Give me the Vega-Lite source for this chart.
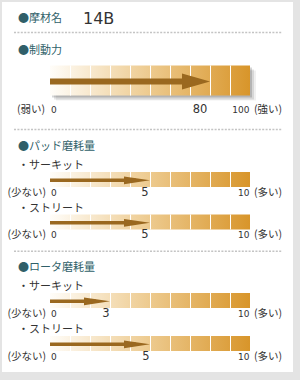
{
  "$schema": "https://vega.github.io/schema/vega-lite/v6.json",
  "background": "#e4e4e4",
  "padding": {"left": 2, "top": 2, "right": 7, "bottom": 8},
  "bounds": "flush",
  "spacing": 0,
  "config": {
    "view": {"fill": "white", "stroke": null},
    "text": {"font": "Noto Sans CJK JP", "color": "#333333"}
  },
  "datasets": {
    "header": [{"label": "摩材名", "name": "14B"}],
    "sections": [
      {"section": "制動力", "first": "制動力"},
      {"section": "パッド磨耗量", "first": "サーキット"},
      {"section": "ロータ磨耗量", "first": "サーキット"}
    ],
    "items": [
      {"section": "制動力", "item": "制動力", "value": 80, "min": 0, "max": 100, "low": "(弱い)", "high": "(強い)"},
      {"section": "パッド磨耗量", "item": "サーキット", "value": 5, "min": 0, "max": 10, "low": "(少ない)", "high": "(多い)"},
      {"section": "パッド磨耗量", "item": "ストリート", "value": 5, "min": 0, "max": 10, "low": "(少ない)", "high": "(多い)"},
      {"section": "ロータ磨耗量", "item": "サーキット", "value": 3, "min": 0, "max": 10, "low": "(少ない)", "high": "(多い)"},
      {"section": "ロータ磨耗量", "item": "ストリート", "value": 5, "min": 0, "max": 10, "low": "(少ない)", "high": "(多い)"}
    ],
    "brakeDividers": [{"t": 10}, {"t": 20}, {"t": 30}, {"t": 40}, {"t": 50}, {"t": 60}, {"t": 70}, {"t": 80}, {"t": 90}],
    "wearDividers": [{"t": 1}, {"t": 2}, {"t": 3}, {"t": 4}, {"t": 5}, {"t": 6}, {"t": 7}, {"t": 8}, {"t": 9}]
  },
  "vconcat": [
    {
      "width": 291,
      "height": 30,
      "data": {"name": "header"},
      "layer": [
        {
          "mark": {"type": "text", "text": "●", "align": "left", "baseline": "middle", "fontSize": 11, "color": "#305f69", "dy": 2},
          "encoding": {"x": {"datum": -1.6, "type": "quantitative", "axis": null, "scale": {"domain": [-2.4, 12.15], "nice": false, "zero": false}}}
        },
        {
          "mark": {"type": "text", "align": "left", "baseline": "middle", "fontSize": 11, "color": "#305f69", "dy": 2},
          "encoding": {"x": {"datum": -1.05, "type": "quantitative"}, "text": {"field": "label"}}
        },
        {
          "mark": {"type": "text", "align": "left", "baseline": "middle", "font": "DejaVu Sans", "fontSize": 16, "color": "#333333", "dy": 2},
          "encoding": {"x": {"datum": 1.65, "type": "quantitative"}, "text": {"field": "name"}}
        }
      ]
    },
    {
      "width": 291,
      "height": 97,
      "data": {"name": "items"},
      "transform": [{"filter": "datum.section === '制動力'"}],
      "encoding": {
        "y": {"field": "item", "type": "nominal", "axis": null, "scale": {"domain": ["制動力"], "paddingInner": 0, "paddingOuter": 0, "round": false}}
      },
      "layer": [
        {
          "mark": {"type": "bar", "height": 30, "fill": "#000000", "opacity": 0.06, "xOffset": 6, "x2Offset": 6, "yOffset": 5},
          "encoding": {
            "x": {"field": "min", "type": "quantitative", "axis": null, "scale": {"domain": [-24, 121.5], "nice": false, "zero": false}},
            "x2": {"field": "max"}
          }
        },
        {
          "mark": {"type": "bar", "height": 30, "fill": "#000000", "opacity": 0.1, "xOffset": 4, "x2Offset": 4, "yOffset": 4},
          "encoding": {"x": {"field": "min", "type": "quantitative"}, "x2": {"field": "max"}}
        },
        {
          "mark": {"type": "bar", "height": 30, "fill": "#000000", "opacity": 0.16, "xOffset": 2, "x2Offset": 2, "yOffset": 2},
          "encoding": {"x": {"field": "min", "type": "quantitative"}, "x2": {"field": "max"}}
        },
        {
          "mark": {"type": "bar", "height": 30, "fill": {"gradient": "linear", "x1": 0, "y1": 0, "x2": 1, "y2": 0, "stops": [{"offset": 0, "color": "#fffdf9"}, {"offset": 0.5, "color": "#edca8e"}, {"offset": 1, "color": "#d8952a"}]}},
          "encoding": {"x": {"field": "min", "type": "quantitative"}, "x2": {"field": "max"}}
        },
        {
          "data": {"name": "brakeDividers"},
          "mark": {"type": "tick", "orient": "vertical", "size": 30, "thickness": 1, "color": "#ffffff", "opacity": 1, "xOffset": 0.5},
          "encoding": {"x": {"field": "t", "type": "quantitative"}, "y": {"datum": "制動力", "type": "nominal"}}
        },
        {
          "mark": {"type": "rule", "strokeWidth": 6, "color": "#9a681f", "x2Offset": -18, "yOffset": 1},
          "encoding": {"x": {"field": "min", "type": "quantitative"}, "x2": {"field": "value"}}
        },
        {
          "mark": {"type": "point", "shape": "M0,0L-2,-0.57L-2,0.57Z", "size": 784, "filled": true, "opacity": 1, "strokeWidth": 0, "color": "#9a681f", "yOffset": 1},
          "encoding": {"x": {"field": "value", "type": "quantitative"}}
        },
        {
          "data": {"name": "sections"},
          "transform": [{"filter": "datum.section === '制動力'"}],
          "mark": {"type": "text", "text": "●", "align": "left", "baseline": "middle", "fontSize": 11, "color": "#305f69", "dy": -29.7},
          "encoding": {"x": {"datum": -16, "type": "quantitative"}, "y": {"field": "first", "type": "nominal"}}
        },
        {
          "data": {"name": "sections"},
          "transform": [{"filter": "datum.section === '制動力'"}],
          "mark": {"type": "text", "align": "left", "baseline": "middle", "fontSize": 11, "color": "#305f69", "dy": -29.7},
          "encoding": {"x": {"datum": -10.5, "type": "quantitative"}, "y": {"field": "first", "type": "nominal"}, "text": {"field": "section"}}
        },
        {
          "mark": {"type": "text", "align": "right", "baseline": "middle", "fontSize": 10.5, "color": "#333333", "dx": -5, "dy": 29.5},
          "encoding": {"x": {"field": "min", "type": "quantitative"}, "text": {"field": "low"}}
        },
        {
          "mark": {"type": "text", "align": "left", "baseline": "middle", "font": "DejaVu Sans", "fontSize": 9, "color": "#333333", "dx": 1, "dy": 29.5},
          "encoding": {"x": {"field": "min", "type": "quantitative"}, "text": {"field": "min"}}
        },
        {
          "mark": {"type": "text", "align": "center", "baseline": "middle", "font": "DejaVu Sans", "fontSize": 11.5, "color": "#333333", "dx": -10, "dy": 29.5},
          "encoding": {"x": {"field": "value", "type": "quantitative"}, "text": {"field": "value"}}
        },
        {
          "mark": {"type": "text", "align": "right", "baseline": "middle", "font": "DejaVu Sans", "fontSize": 9, "color": "#333333", "dx": -0.5, "dy": 29.5},
          "encoding": {"x": {"field": "max", "type": "quantitative"}, "text": {"field": "max"}}
        },
        {
          "mark": {"type": "text", "align": "left", "baseline": "middle", "fontSize": 10.5, "color": "#333333", "dx": 4, "dy": 29.5},
          "encoding": {"x": {"field": "max", "type": "quantitative"}, "text": {"field": "high"}}
        },
        {
          "mark": {"type": "rule", "strokeDash": [2, 1.4], "strokeWidth": 1.6, "color": "#c4c4c4", "yOffset": -48},
          "encoding": {"x": {"datum": -18, "type": "quantitative"}, "x2": {"datum": 116}}
        }
      ]
    },
    {
      "width": 291,
      "height": 123,
      "data": {"name": "items"},
      "transform": [{"filter": "datum.section === 'パッド磨耗量'"}],
      "encoding": {
        "y": {"field": "item", "type": "nominal", "axis": null, "scale": {"domain": ["サーキット", "ストリート"], "paddingInner": 0, "paddingOuter": 0.44706, "align": 0.76974, "round": false}}
      },
      "layer": [
        {
          "mark": {"type": "bar", "height": 15, "fill": {"gradient": "linear", "x1": 0, "y1": 0, "x2": 1, "y2": 0, "stops": [{"offset": 0, "color": "#fffdf9"}, {"offset": 0.5, "color": "#edca8e"}, {"offset": 1, "color": "#d8952a"}]}},
          "encoding": {
            "x": {"field": "min", "type": "quantitative", "axis": null, "scale": {"domain": [-2.4, 12.15], "nice": false, "zero": false}},
            "x2": {"field": "max"}
          }
        },
        {
          "data": {"name": "wearDividers"},
          "mark": {"type": "tick", "orient": "vertical", "size": 15, "thickness": 1, "color": "#ffffff", "opacity": 1, "xOffset": 0.5},
          "encoding": {"x": {"field": "t", "type": "quantitative"}, "y": {"datum": "サーキット", "type": "nominal"}}
        },
        {
          "data": {"name": "wearDividers"},
          "mark": {"type": "tick", "orient": "vertical", "size": 15, "thickness": 1, "color": "#ffffff", "opacity": 1, "xOffset": 0.5},
          "encoding": {"x": {"field": "t", "type": "quantitative"}, "y": {"datum": "ストリート", "type": "nominal"}}
        },
        {
          "mark": {"type": "rule", "strokeWidth": 3.5, "color": "#9a681f", "x2Offset": -14, "yOffset": 0.8},
          "encoding": {"x": {"field": "min", "type": "quantitative"}, "x2": {"field": "value"}}
        },
        {
          "mark": {"type": "point", "shape": "M0,0L-2,-0.3L-2,0.3Z", "size": 676, "filled": true, "opacity": 1, "strokeWidth": 0, "color": "#9a681f", "yOffset": 0.8},
          "encoding": {"x": {"field": "value", "type": "quantitative"}}
        },
        {
          "mark": {"type": "text", "text": "・", "align": "left", "baseline": "middle", "fontSize": 11, "color": "#333333", "dy": -13.3},
          "encoding": {"x": {"datum": -1.6, "type": "quantitative"}}
        },
        {
          "mark": {"type": "text", "align": "left", "baseline": "middle", "fontSize": 11, "color": "#333333", "dy": -13.3},
          "encoding": {"x": {"datum": -1.05, "type": "quantitative"}, "text": {"field": "item"}}
        },
        {
          "mark": {"type": "text", "align": "right", "baseline": "middle", "fontSize": 10.5, "color": "#333333", "dx": -4, "dy": 13.3},
          "encoding": {"x": {"field": "min", "type": "quantitative"}, "text": {"field": "low"}}
        },
        {
          "mark": {"type": "text", "align": "left", "baseline": "middle", "font": "DejaVu Sans", "fontSize": 9, "color": "#333333", "dx": 1, "dy": 13.3},
          "encoding": {"x": {"field": "min", "type": "quantitative"}, "text": {"field": "min"}}
        },
        {
          "mark": {"type": "text", "align": "center", "baseline": "middle", "font": "DejaVu Sans", "fontSize": 11.5, "color": "#333333", "dx": -5, "dy": 13.3},
          "encoding": {"x": {"field": "value", "type": "quantitative"}, "text": {"field": "value"}}
        },
        {
          "mark": {"type": "text", "align": "right", "baseline": "middle", "font": "DejaVu Sans", "fontSize": 9, "color": "#333333", "dx": -0.5, "dy": 13.3},
          "encoding": {"x": {"field": "max", "type": "quantitative"}, "text": {"field": "max"}}
        },
        {
          "mark": {"type": "text", "align": "left", "baseline": "middle", "fontSize": 10.5, "color": "#333333", "dx": 4, "dy": 13.3},
          "encoding": {"x": {"field": "max", "type": "quantitative"}, "text": {"field": "high"}}
        },
        {
          "data": {"name": "sections"},
          "transform": [{"filter": "datum.section === 'パッド磨耗量'"}],
          "mark": {"type": "text", "text": "●", "align": "left", "baseline": "middle", "fontSize": 11, "color": "#305f69", "dy": -33},
          "encoding": {"x": {"datum": -1.6, "type": "quantitative"}, "y": {"field": "first", "type": "nominal"}}
        },
        {
          "data": {"name": "sections"},
          "transform": [{"filter": "datum.section === 'パッド磨耗量'"}],
          "mark": {"type": "text", "align": "left", "baseline": "middle", "fontSize": 11, "color": "#305f69", "dy": -33},
          "encoding": {"x": {"datum": -1.05, "type": "quantitative"}, "y": {"field": "first", "type": "nominal"}, "text": {"field": "section"}}
        },
        {
          "transform": [{"filter": "datum.item === 'サーキット'"}],
          "mark": {"type": "rule", "strokeDash": [2, 1.4], "strokeWidth": 1.6, "color": "#c4c4c4", "yOffset": -50},
          "encoding": {"x": {"datum": -1.8, "type": "quantitative"}, "x2": {"datum": 11.6}}
        }
      ]
    },
    {
      "width": 291,
      "height": 120,
      "data": {"name": "items"},
      "transform": [{"filter": "datum.section === 'ロータ磨耗量'"}],
      "encoding": {
        "y": {"field": "item", "type": "nominal", "axis": null, "scale": {"domain": ["サーキット", "ストリート"], "paddingInner": 0, "paddingOuter": 0.39535, "align": 0.79412, "round": false}}
      },
      "layer": [
        {
          "mark": {"type": "bar", "height": 15, "fill": {"gradient": "linear", "x1": 0, "y1": 0, "x2": 1, "y2": 0, "stops": [{"offset": 0, "color": "#fffdf9"}, {"offset": 0.5, "color": "#edca8e"}, {"offset": 1, "color": "#d8952a"}]}},
          "encoding": {
            "x": {"field": "min", "type": "quantitative", "axis": null, "scale": {"domain": [-2.4, 12.15], "nice": false, "zero": false}},
            "x2": {"field": "max"}
          }
        },
        {
          "data": {"name": "wearDividers"},
          "mark": {"type": "tick", "orient": "vertical", "size": 15, "thickness": 1, "color": "#ffffff", "opacity": 1, "xOffset": 0.5},
          "encoding": {"x": {"field": "t", "type": "quantitative"}, "y": {"datum": "サーキット", "type": "nominal"}}
        },
        {
          "data": {"name": "wearDividers"},
          "mark": {"type": "tick", "orient": "vertical", "size": 15, "thickness": 1, "color": "#ffffff", "opacity": 1, "xOffset": 0.5},
          "encoding": {"x": {"field": "t", "type": "quantitative"}, "y": {"datum": "ストリート", "type": "nominal"}}
        },
        {
          "mark": {"type": "rule", "strokeWidth": 3.5, "color": "#9a681f", "x2Offset": -14, "yOffset": 0.8},
          "encoding": {"x": {"field": "min", "type": "quantitative"}, "x2": {"field": "value"}}
        },
        {
          "mark": {"type": "point", "shape": "M0,0L-2,-0.3L-2,0.3Z", "size": 676, "filled": true, "opacity": 1, "strokeWidth": 0, "color": "#9a681f", "yOffset": 0.8},
          "encoding": {"x": {"field": "value", "type": "quantitative"}}
        },
        {
          "mark": {"type": "text", "text": "・", "align": "left", "baseline": "middle", "fontSize": 11, "color": "#333333", "dy": -13.3},
          "encoding": {"x": {"datum": -1.6, "type": "quantitative"}}
        },
        {
          "mark": {"type": "text", "align": "left", "baseline": "middle", "fontSize": 11, "color": "#333333", "dy": -13.3},
          "encoding": {"x": {"datum": -1.05, "type": "quantitative"}, "text": {"field": "item"}}
        },
        {
          "mark": {"type": "text", "align": "right", "baseline": "middle", "fontSize": 10.5, "color": "#333333", "dx": -4, "dy": 13.3},
          "encoding": {"x": {"field": "min", "type": "quantitative"}, "text": {"field": "low"}}
        },
        {
          "mark": {"type": "text", "align": "left", "baseline": "middle", "font": "DejaVu Sans", "fontSize": 9, "color": "#333333", "dx": 1, "dy": 13.3},
          "encoding": {"x": {"field": "min", "type": "quantitative"}, "text": {"field": "min"}}
        },
        {
          "mark": {"type": "text", "align": "center", "baseline": "middle", "font": "DejaVu Sans", "fontSize": 11.5, "color": "#333333", "dx": -4, "dy": 13.3},
          "encoding": {"x": {"field": "value", "type": "quantitative"}, "text": {"field": "value"}}
        },
        {
          "mark": {"type": "text", "align": "right", "baseline": "middle", "font": "DejaVu Sans", "fontSize": 9, "color": "#333333", "dx": -0.5, "dy": 13.3},
          "encoding": {"x": {"field": "max", "type": "quantitative"}, "text": {"field": "max"}}
        },
        {
          "mark": {"type": "text", "align": "left", "baseline": "middle", "fontSize": 10.5, "color": "#333333", "dx": 4, "dy": 13.3},
          "encoding": {"x": {"field": "max", "type": "quantitative"}, "text": {"field": "high"}}
        },
        {
          "data": {"name": "sections"},
          "transform": [{"filter": "datum.section === 'ロータ磨耗量'"}],
          "mark": {"type": "text", "text": "●", "align": "left", "baseline": "middle", "fontSize": 11, "color": "#305f69", "dy": -32.5},
          "encoding": {"x": {"datum": -1.6, "type": "quantitative"}, "y": {"field": "first", "type": "nominal"}}
        },
        {
          "data": {"name": "sections"},
          "transform": [{"filter": "datum.section === 'ロータ磨耗量'"}],
          "mark": {"type": "text", "align": "left", "baseline": "middle", "fontSize": 11, "color": "#305f69", "dy": -32.5},
          "encoding": {"x": {"datum": -1.05, "type": "quantitative"}, "y": {"field": "first", "type": "nominal"}, "text": {"field": "section"}}
        },
        {
          "transform": [{"filter": "datum.item === 'サーキット'"}],
          "mark": {"type": "rule", "strokeDash": [2, 1.4], "strokeWidth": 1.6, "color": "#c4c4c4", "yOffset": -49.2},
          "encoding": {"x": {"datum": -1.8, "type": "quantitative"}, "x2": {"datum": 11.6}}
        }
      ]
    }
  ]
}
